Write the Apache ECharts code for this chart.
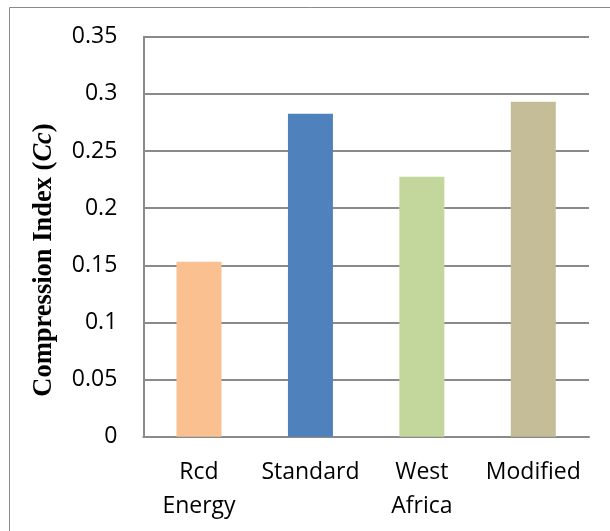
<!DOCTYPE html>
<html>
<head>
<meta charset="utf-8">
<script src="https://cdn.jsdelivr.net/npm/echarts@6/dist/echarts.min.js"></script>
<style>
html,body{margin:0;padding:0;background:#fff;}
#c{width:610px;height:531px;}
</style>
</head>
<body>
<div id="c"></div>
<script>
const categories = ['Rcd Energy', 'Standard', 'West Africa', 'Modified'];
const values = [0.153, 0.2825, 0.2275, 0.293];
const barColors = ['#FAC090', '#4F81BD', '#C3D69B', '#C4BD97'];
const yTicks = [0, 0.05, 0.1, 0.15, 0.2, 0.25, 0.3, 0.35];
const yTitle = 'Compression Index (';
const yTitleItalic = 'Cc';

const chart = echarts.init(document.getElementById('c'), null, {renderer: 'canvas'});
chart.setOption({
  animation: false,
  backgroundColor: '#fff',
  grid: {left: 143.3, right: 21, top: 36.7, bottom: 94.3, containLabel: false},
  graphic: [{
    type: 'rect', silent: true,
    shape: {x: 9.5, y: 7.5, width: 700, height: 600},
    style: {fill: 'none', stroke: '#8a8a8a', lineWidth: 1}
  }, {
    type: 'text', silent: true,
    x: 44, y: 260, rotation: Math.PI / 2,
    style: {
      text: '{b|' + yTitle + '}{i|' + yTitleItalic + '}{b|)}',
      align: 'center', verticalAlign: 'middle',
      rich: {
        b: {fontFamily: 'Liberation Serif', fontWeight: 'bold', fontSize: 26.5, fill: '#000'},
        i: {fontFamily: 'Liberation Serif', fontWeight: 'bold', fontStyle: 'italic', fontSize: 26.5, fill: '#000'}
      }
    }
  }],
  xAxis: {
    type: 'category',
    data: categories,
    axisLine: {show: true, lineStyle: {color: '#8a8a8a', width: 2}},
    axisTick: {show: false},
    axisLabel: {
      margin: 19,
      color: '#000',
      fontFamily: 'Open Sans',
      fontSize: 23,
      lineHeight: 34,
      interval: 0,
      formatter: v => v.replace(' ', '\n')
    }
  },
  yAxis: {
    type: 'value',
    min: yTicks[0],
    max: yTicks[yTicks.length - 1],
    interval: 0.05,
    axisLine: {show: true, lineStyle: {color: '#8a8a8a', width: 2}},
    axisTick: {show: false},
    splitLine: {show: true, lineStyle: {color: '#8a8a8a', width: 2}},
    axisLabel: {
      margin: 26,
      color: '#000',
      fontFamily: 'Open Sans',
      fontSize: 23,
      formatter: v => String(+v.toFixed(2))
    }
  },
  series: [{
    type: 'bar',
    barWidth: 45,
    data: values.map((v, i) => ({value: v, itemStyle: {color: barColors[i]}}))
  }]
});
</script>
</body>
</html>
